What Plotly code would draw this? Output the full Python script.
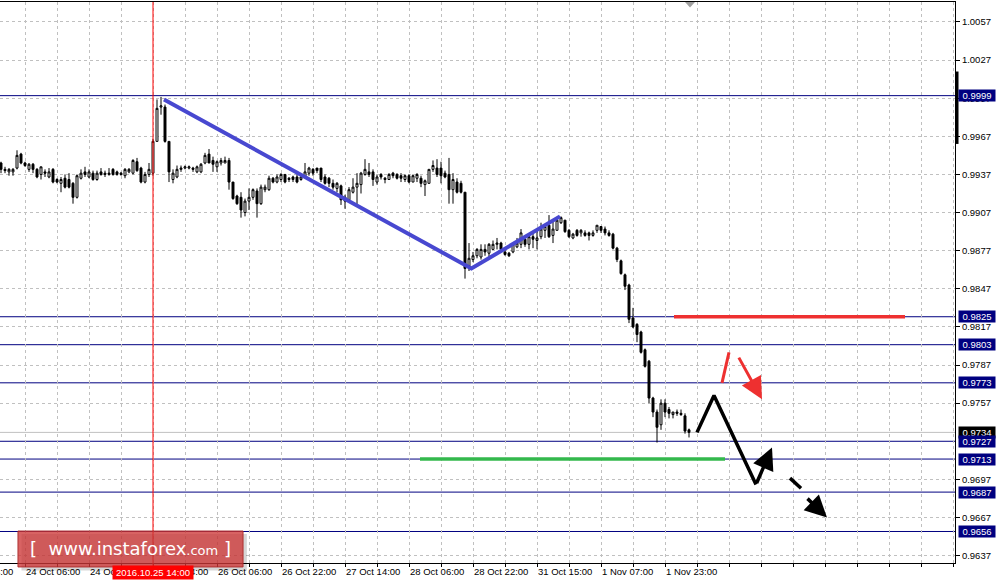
import plotly.graph_objects as go

# ---------------- data (H1 candles) ----------------
opens = [0.9946, 0.9941, 0.9939, 0.9939, 0.9942, 0.9953, 0.9946, 0.9941, 0.9945, 0.9941,
         0.9937, 0.9939, 0.9935, 0.9941, 0.9933, 0.9930, 0.9934, 0.9933, 0.9930, 0.9919,
         0.9934, 0.9939, 0.9935, 0.9938, 0.9933, 0.9939, 0.9938, 0.9937, 0.9941, 0.9939,
         0.9938, 0.9936, 0.9939, 0.9938, 0.9947, 0.9942, 0.9931, 0.9937, 0.9938, 0.9963,
         0.9990, 0.9990, 0.9963, 0.9933, 0.9935, 0.9941, 0.9942, 0.9942, 0.9942, 0.9939,
         0.9939, 0.9946, 0.9953, 0.9948, 0.9943, 0.9946, 0.9946, 0.9948, 0.9931, 0.9920,
         0.9919, 0.9907, 0.9916, 0.9919, 0.9924, 0.9914, 0.9925, 0.9925, 0.9934, 0.9931,
         0.9933, 0.9937, 0.9934, 0.9935, 0.9935, 0.9933, 0.9935, 0.9938, 0.9941, 0.9942,
         0.9942, 0.9935, 0.9934, 0.9930, 0.9926, 0.9928, 0.9919, 0.9917, 0.9923, 0.9927,
         0.9929, 0.9937, 0.9939, 0.9939, 0.9931, 0.9937, 0.9934, 0.9933, 0.9938, 0.9937,
         0.9936, 0.9933, 0.9936, 0.9931, 0.9934, 0.9934, 0.9929, 0.9930, 0.9941, 0.9942,
         0.9942, 0.9938, 0.9937, 0.9925, 0.9931, 0.9930, 0.9923, 0.9865, 0.9870, 0.9873,
         0.9872, 0.9878, 0.9875, 0.9878, 0.9882, 0.9883, 0.9876, 0.9875, 0.9876, 0.9880,
         0.9882, 0.9886, 0.9882, 0.9888, 0.9885, 0.9888, 0.9893, 0.9897, 0.9889, 0.9893,
         0.9899, 0.9901, 0.9893, 0.9887, 0.9893, 0.9891, 0.9891, 0.9891, 0.9889, 0.9893,
         0.9896, 0.9894, 0.9891, 0.9890, 0.9879, 0.9869, 0.9858, 0.9850, 0.9824, 0.9819,
         0.9813, 0.9799, 0.9790, 0.9761, 0.9750, 0.9740, 0.9757, 0.9752, 0.9748, 0.9750,
         0.9749, 0.9747, 0.9736]
highs = [0.9947, 0.9943, 0.9942, 0.9942, 0.9956, 0.9954, 0.9947, 0.9946, 0.9946, 0.9942,
         0.9943, 0.9941, 0.9942, 0.9942, 0.9934, 0.9935, 0.9937, 0.9938, 0.9931, 0.9937,
         0.9941, 0.9943, 0.9941, 0.9940, 0.9940, 0.9942, 0.9940, 0.9942, 0.9942, 0.9940,
         0.9939, 0.9942, 0.9942, 0.9949, 0.9950, 0.9943, 0.9939, 0.9946, 0.9965, 0.9996,
         0.9998, 0.9992, 0.9963, 0.9941, 0.9944, 0.9944, 0.9944, 0.9944, 0.9943, 0.9944,
         0.9946, 0.9954, 0.9957, 0.9951, 0.9948, 0.9950, 0.9951, 0.9950, 0.9931, 0.9921,
         0.9923, 0.9918, 0.9926, 0.9926, 0.9926, 0.9929, 0.9929, 0.9936, 0.9935, 0.9937,
         0.9938, 0.9937, 0.9935, 0.9936, 0.9937, 0.9937, 0.9946, 0.9943, 0.9942, 0.9942,
         0.9942, 0.9937, 0.9935, 0.9933, 0.9931, 0.9929, 0.9921, 0.9927, 0.9934, 0.9938,
         0.9939, 0.9949, 0.9946, 0.9941, 0.9937, 0.9938, 0.9935, 0.9938, 0.9939, 0.9938,
         0.9938, 0.9937, 0.9937, 0.9937, 0.9938, 0.9936, 0.9933, 0.9941, 0.9948, 0.9949,
         0.9947, 0.9940, 0.9950, 0.9938, 0.9934, 0.9932, 0.9923, 0.9883, 0.9876, 0.9879,
         0.9882, 0.9882, 0.9883, 0.9885, 0.9887, 0.9884, 0.9879, 0.9876, 0.9883, 0.9887,
         0.9894, 0.9889, 0.9889, 0.9892, 0.9893, 0.9899, 0.9897, 0.9905, 0.9901, 0.9903,
         0.9904, 0.9901, 0.9894, 0.9891, 0.9894, 0.9894, 0.9893, 0.9892, 0.9893, 0.9897,
         0.9896, 0.9896, 0.9893, 0.9891, 0.9880, 0.9870, 0.9859, 0.9851, 0.9832, 0.9820,
         0.9814, 0.9800, 0.9791, 0.9762, 0.9752, 0.9760, 0.9760, 0.9754, 0.9750, 0.9752,
         0.9752, 0.9749, 0.9737]
lows = [0.9938, 0.9938, 0.9936, 0.9936, 0.9941, 0.9945, 0.9943, 0.9939, 0.9938, 0.9934,
        0.9933, 0.9935, 0.9934, 0.9930, 0.9930, 0.9923, 0.9926, 0.9926, 0.9914, 0.9918,
        0.9933, 0.9935, 0.9934, 0.9932, 0.9932, 0.9936, 0.9935, 0.9936, 0.9936, 0.9936,
        0.9936, 0.9934, 0.9938, 0.9937, 0.9939, 0.9930, 0.9930, 0.9935, 0.9936, 0.9963,
        0.9984, 0.9962, 0.9931, 0.9930, 0.9934, 0.9939, 0.9941, 0.9941, 0.9939, 0.9938,
        0.9938, 0.9945, 0.9946, 0.9939, 0.9939, 0.9944, 0.9946, 0.9925, 0.9917, 0.9913,
        0.9903, 0.9904, 0.9909, 0.9917, 0.9903, 0.9913, 0.9923, 0.9924, 0.9930, 0.9930,
        0.9931, 0.9930, 0.9931, 0.9931, 0.9930, 0.9932, 0.9934, 0.9936, 0.9936, 0.9938,
        0.9931, 0.9929, 0.9927, 0.9925, 0.9923, 0.9913, 0.9910, 0.9916, 0.9922, 0.9912,
        0.9922, 0.9936, 0.9935, 0.9928, 0.9929, 0.9933, 0.9930, 0.9933, 0.9934, 0.9933,
        0.9931, 0.9931, 0.9930, 0.9931, 0.9931, 0.9927, 0.9920, 0.9930, 0.9939, 0.9935,
        0.9930, 0.9934, 0.9914, 0.9914, 0.9922, 0.9922, 0.9855, 0.9861, 0.9868, 0.9871,
        0.9870, 0.9873, 0.9871, 0.9878, 0.9878, 0.9876, 0.9873, 0.9872, 0.9875, 0.9879,
        0.9879, 0.9880, 0.9878, 0.9879, 0.9878, 0.9886, 0.9887, 0.9887, 0.9883, 0.9893,
        0.9898, 0.9891, 0.9887, 0.9886, 0.9888, 0.9888, 0.9888, 0.9885, 0.9888, 0.9891,
        0.9891, 0.9889, 0.9888, 0.9878, 0.9868, 0.9858, 0.9846, 0.9820, 0.9816, 0.9805,
        0.9796, 0.9785, 0.9757, 0.9746, 0.9726, 0.9736, 0.9746, 0.9745, 0.9745, 0.9747,
        0.9747, 0.9733, 0.9730]
closes = [0.9941, 0.9940, 0.9941, 0.9941, 0.9952, 0.9946, 0.9944, 0.9945, 0.9941, 0.9935,
          0.9943, 0.9938, 0.9939, 0.9931, 0.9931, 0.9933, 0.9927, 0.9927, 0.9919, 0.9936,
          0.9938, 0.9937, 0.9939, 0.9933, 0.9938, 0.9937, 0.9937, 0.9938, 0.9937, 0.9937,
          0.9937, 0.9941, 0.9941, 0.9948, 0.9940, 0.9931, 0.9937, 0.9941, 0.9963, 0.9989,
          0.9991, 0.9963, 0.9939, 0.9938, 0.9941, 0.9942, 0.9943, 0.9943, 0.9941, 0.9943,
          0.9945, 0.9952, 0.9946, 0.9945, 0.9947, 0.9948, 0.9948, 0.9931, 0.9918, 0.9914,
          0.9909, 0.9916, 0.9919, 0.9925, 0.9914, 0.9927, 0.9927, 0.9934, 0.9931, 0.9935,
          0.9937, 0.9931, 0.9933, 0.9933, 0.9931, 0.9935, 0.9939, 0.9942, 0.9938, 0.9940,
          0.9933, 0.9930, 0.9930, 0.9927, 0.9930, 0.9917, 0.9916, 0.9925, 0.9927, 0.9930,
          0.9938, 0.9941, 0.9937, 0.9933, 0.9935, 0.9935, 0.9933, 0.9937, 0.9936, 0.9934,
          0.9934, 0.9936, 0.9931, 0.9936, 0.9937, 0.9930, 0.9932, 0.9941, 0.9944, 0.9937,
          0.9936, 0.9935, 0.9925, 0.9933, 0.9923, 0.9923, 0.9863, 0.9871, 0.9873, 0.9878,
          0.9878, 0.9876, 0.9882, 0.9882, 0.9883, 0.9878, 0.9874, 0.9873, 0.9882, 0.9883,
          0.9891, 0.9882, 0.9888, 0.9886, 0.9887, 0.9894, 0.9896, 0.9888, 0.9894, 0.9901,
          0.9903, 0.9892, 0.9888, 0.9890, 0.9889, 0.9893, 0.9889, 0.9889, 0.9891, 0.9897,
          0.9893, 0.9891, 0.9889, 0.9879, 0.9870, 0.9859, 0.9849, 0.9823, 0.9817, 0.9811,
          0.9797, 0.9786, 0.9761, 0.9750, 0.9738, 0.9757, 0.9750, 0.9749, 0.9750, 0.9749,
          0.9748, 0.9735, 0.9734]
bar_index = list(range(len(opens)))

# time axis labels (bar index -> label)
x_label_idx = [-10, 6, 22, 38, 54, 70, 86, 102, 118, 134, 150, 166]
x_label_text = ["21 Oct 14:00", "24 Oct 06:00", "24 Oct 22:00", "25 Oct 14:00",
                "26 Oct 06:00", "26 Oct 22:00", "27 Oct 14:00", "28 Oct 06:00",
                "28 Oct 22:00", "31 Oct 15:00", "1 Nov 07:00", "1 Nov 23:00"]
x_range = [-0.25, 238.5]

# price axis (0.9727 tick is hidden under its level label in the reference)
y_ticks = [0.9637, 0.9667, 0.9697, 0.9757, 0.9787, 0.9817, 0.9847, 0.9877,
           0.9907, 0.9937, 0.9967, 0.9997, 1.0027, 1.0057]
y_range = [0.96312, 1.00727]

# horizontal levels & labels
level_prices = [0.9999, 0.9825, 0.9803, 0.9773, 0.9727, 0.9713, 0.9687, 0.9656]
last_price = 0.9734
crosshair_idx = 38
crosshair_label = "2016.10.25 14:00"

# analyst drawings (bar index, price)
trend_x = [40.75, 117.6, 139.75]
trend_y = [0.9996, 0.9863, 0.9904]
resist_x = [168.25, 226.0]
resist_y = [0.9825, 0.9825]
support_x = [104.75, 181.0]
support_y = [0.9713, 0.9713]
zig_x = [174.0, 178.25, 188.75]
zig_y = [0.9734, 0.9763, 0.9693]
zig_arrow_tip = (192.75, 0.9722)
red_stroke_x = [180.25, 182.0]
red_stroke_y = [0.9773, 0.9797]
red_arrow_tail = (184.25, 0.9794)
red_arrow_tip = (190.25, 0.9760)
dash_seg_x = [197.25, 200.0]
dash_seg_y = [0.9698, 0.9690]
dash_arrow_tail = (201.25, 0.9683)
dash_arrow_tip = (206.5, 0.9667)

FONT = "Liberation Sans, Arial, sans-serif"
NAVY = "#000080"
BLUE = "#4848d0"
RED = "#ee3030"
GREEN = "#33b84c"

fig = go.Figure()
fig.add_trace(go.Candlestick(
    x=bar_index, open=opens, high=highs, low=lows, close=closes,
    increasing=dict(line=dict(color="black", width=1), fillcolor="white"),
    decreasing=dict(line=dict(color="black", width=1), fillcolor="black"),
    whiskerwidth=0, hoverinfo="skip", showlegend=False))

fig.add_trace(go.Scatter(x=trend_x, y=trend_y, mode="lines",
                         line=dict(color=BLUE, width=4), hoverinfo="skip", showlegend=False))
fig.add_trace(go.Scatter(x=resist_x, y=resist_y, mode="lines",
                         line=dict(color=RED, width=3.5), hoverinfo="skip", showlegend=False))
fig.add_trace(go.Scatter(x=support_x, y=support_y, mode="lines",
                         line=dict(color=GREEN, width=3.5), hoverinfo="skip", showlegend=False))
fig.add_trace(go.Scatter(x=zig_x, y=zig_y, mode="lines",
                         line=dict(color="black", width=3.5), hoverinfo="skip", showlegend=False))
fig.add_trace(go.Scatter(x=red_stroke_x, y=red_stroke_y, mode="lines",
                         line=dict(color=RED, width=3), hoverinfo="skip", showlegend=False))
fig.add_trace(go.Scatter(x=dash_seg_x, y=dash_seg_y, mode="lines",
                         line=dict(color="black", width=3.5), hoverinfo="skip", showlegend=False))

shapes = []
shapes.append(dict(type="line", xref="paper", x0=0, x1=1, yref="y", y0=last_price, y1=last_price,
                   line=dict(color="#c0c0c0", width=1), layer="between"))
for p in level_prices:
    shapes.append(dict(type="line", xref="paper", x0=0, x1=1, yref="y", y0=p, y1=p,
                       line=dict(color=NAVY, width=1), layer="between"))
shapes.append(dict(type="line", xref="x", x0=crosshair_idx, x1=crosshair_idx, yref="paper",
                   y0=-0.008, y1=1, line=dict(color="#ff0000", width=1), layer="above"))
shapes.append(dict(type="line", xref="paper", x0=1.0021, x1=1.0021, yref="y", y0=0.9961, y1=1.0018,
                   line=dict(color="black", width=3), layer="above"))
shapes.append(dict(type="path", xref="x", yref="paper",
                   path="M 171.0,1 L 173.5,1 L 172.25,0.99 Z",
                   fillcolor="#a0a0a0", line=dict(width=0), layer="above"))
shapes.append(dict(type="rect", xref="paper", yref="paper", x0=0.0225, x1=0.2585, y0=-0.0135, y1=0.0515,
                   fillcolor="rgba(0,0,0,0.16)", line=dict(width=0), layer="above"))
shapes.append(dict(type="rect", xref="paper", yref="paper", x0=0.0188, x1=0.2545, y0=-0.0071, y1=0.057,
                   fillcolor="rgba(205,55,55,0.78)", line=dict(color="rgba(170,40,40,0.9)", width=1),
                   layer="above"))

annotations = []
span = x_range[1] - x_range[0]
for idx, txt in zip(x_label_idx, x_label_text):
    annotations.append(dict(x=(idx - x_range[0]) / span, xref="paper", xanchor="left",
                            xshift=-4 if idx < 0 else -1,
                            y=0, yref="paper", yanchor="top", yshift=-1,
                            text=txt, showarrow=False, font=dict(family=FONT, size=9.5, color="black")))
annotations.append(dict(x=crosshair_idx, xref="x", xanchor="center", y=0, yref="paper", yanchor="top",
                        yshift=-2, text=crosshair_label, showarrow=False, bgcolor="#ff0000",
                        width=80, height=13, borderpad=0,
                        font=dict(family=FONT, size=9.5, color="white")))
annotations.append(dict(x=1, xref="paper", xanchor="left", xshift=3, y=last_price, yref="y",
                        yanchor="middle", text=f"{last_price:.4f}", showarrow=False, bgcolor="black",
                        width=36, height=11, borderpad=0, font=dict(family=FONT, size=9.5, color="white")))
for p in level_prices:
    annotations.append(dict(x=1, xref="paper", xanchor="left", xshift=3, y=p, yref="y",
                            yanchor="middle", text=f"{p:.4f}", showarrow=False, bgcolor=NAVY,
                            width=36, height=11, borderpad=0, font=dict(family=FONT, size=9.5, color="white")))
annotations.append(dict(x=zig_arrow_tip[0], y=zig_arrow_tip[1], ax=zig_x[-1], ay=zig_y[-1],
                        xref="x", yref="y", axref="x", ayref="y", text="", showarrow=True,
                        arrowhead=2, arrowsize=1.25, arrowwidth=3.5, arrowcolor="black"))
annotations.append(dict(x=red_arrow_tip[0], y=red_arrow_tip[1], ax=red_arrow_tail[0], ay=red_arrow_tail[1],
                        xref="x", yref="y", axref="x", ayref="y", text="", showarrow=True,
                        arrowhead=2, arrowsize=1.45, arrowwidth=3, arrowcolor=RED))
annotations.append(dict(x=dash_arrow_tip[0], y=dash_arrow_tip[1], ax=dash_arrow_tail[0], ay=dash_arrow_tail[1],
                        xref="x", yref="y", axref="x", ayref="y", text="", showarrow=True,
                        arrowhead=2, arrowsize=1.25, arrowwidth=3.5, arrowcolor="black"))
annotations.append(dict(x=0.1366, xref="paper", y=0.025, yref="paper", xanchor="center", yanchor="middle",
                        text="[  www.instaforex<span style='font-size:13px'>.com</span> ]",
                        showarrow=False, font=dict(family="DejaVu Sans, sans-serif", size=18, color="white")))

fig.update_layout(
    width=998, height=581,
    margin=dict(l=0, r=43, t=2, b=18),
    paper_bgcolor="white", plot_bgcolor="white",
    showlegend=False, hovermode=False,
    shapes=shapes, annotations=annotations,
    xaxis=dict(range=x_range, rangeslider=dict(visible=False), showticklabels=False,
               tick0=6, dtick=8, ticks="outside", ticklen=3, tickcolor="black",
               showgrid=True, gridcolor="#c0c0c0", griddash="3px,3px", gridwidth=1,
               showline=True, linecolor="black", linewidth=1, mirror=True, zeroline=False,
               fixedrange=True),
    yaxis=dict(range=y_range, side="right", tickvals=y_ticks,
               ticktext=[f"{v:.4f}" for v in y_ticks],
               ticks="outside", ticklen=4, tickcolor="black",
               tickfont=dict(family=FONT, size=9.5, color="black"),
               showgrid=True, gridcolor="#c0c0c0", griddash="3px,3px", gridwidth=1,
               showline=True, linecolor="black", linewidth=1, zeroline=False, fixedrange=True),
)

fig.write_html("out.html", config={"displayModeBar": False},
               post_script="document.body.style.margin='0';document.body.style.overflow='hidden';")
